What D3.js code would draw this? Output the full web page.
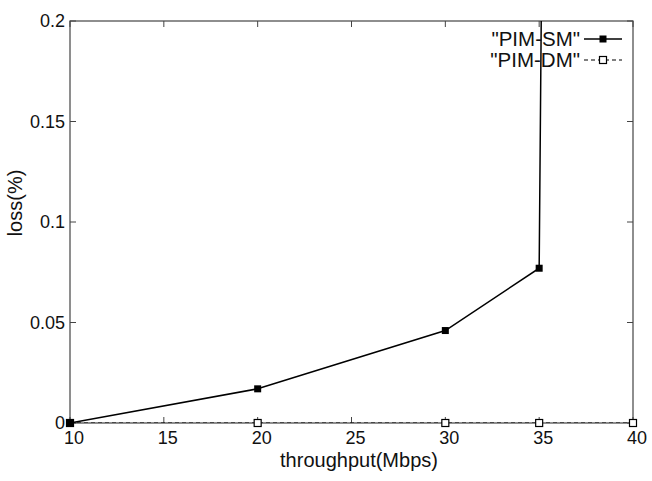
<!DOCTYPE html>
<html>
<head>
<meta charset="utf-8">
<script src="https://cdn.jsdelivr.net/npm/d3@7"></script>
<style>
  body { margin: 0; background: #fff; }
  text { font-family: "Liberation Sans", Arial, sans-serif; fill: #111; }
</style>
</head>
<body>
<script>
// data
const throughput = [10, 20, 30, 35, 40]
const pimSM = [0, 0.017, 0.046, 0.077, 5.7]   // last one shoots far off the top
const pimDM = [0, 0, 0, 0, 0]
const xTicks = [10, 15, 20, 25, 30, 35, 40]
const yTicks = [0, 0.05, 0.1, 0.15, 0.2]
const seriesNames = ['"PIM-SM"', '"PIM-DM"']

const w = 652
const h = 481
const pLeft = 70, pRight = 633, pTop = 21, pBottom = 423

const svg = d3.select("body")
  .append("svg")
  .attr("width", w)
  .attr("height", h)

const x = d3.scaleLinear().domain([10, 40]).range([pLeft, pRight])
const y = d3.scaleLinear().domain([0, 0.2]).range([pBottom, pTop])

svg.append("defs").append("clipPath").attr("id", "plot")
  .append("rect")
  .attr("x", pLeft).attr("y", pTop)
  .attr("width", pRight - pLeft).attr("height", pBottom - pTop)

// ticks on all four sides, pointing inwards
const tickLen = 6
const axisColor = "#444"
svg.append("g").selectAll("line")
  .data(xTicks)
  .enter()
  .append("line")
  .attr("x1", d => x(d)).attr("x2", d => x(d))
  .attr("y1", pBottom).attr("y2", pBottom - tickLen)
  .attr("stroke", axisColor)
svg.append("g").selectAll("line")
  .data(xTicks)
  .enter()
  .append("line")
  .attr("x1", d => x(d)).attr("x2", d => x(d))
  .attr("y1", pTop).attr("y2", pTop + tickLen)
  .attr("stroke", axisColor)
svg.append("g").selectAll("line")
  .data(yTicks)
  .enter()
  .append("line")
  .attr("x1", pLeft).attr("x2", pLeft + tickLen)
  .attr("y1", d => y(d)).attr("y2", d => y(d))
  .attr("stroke", axisColor)
svg.append("g").selectAll("line")
  .data(yTicks)
  .enter()
  .append("line")
  .attr("x1", pRight).attr("x2", pRight - tickLen)
  .attr("y1", d => y(d)).attr("y2", d => y(d))
  .attr("stroke", axisColor)

svg.append("rect")
  .attr("x", pLeft).attr("y", pTop)
  .attr("width", pRight - pLeft).attr("height", pBottom - pTop)
  .attr("fill", "none")
  .attr("stroke", axisColor)
  .attr("stroke-width", 1.2)

// tick labels
svg.append("g").selectAll("text")
  .data(xTicks)
  .enter()
  .append("text")
  .attr("x", d => x(d) + 4)
  .attr("y", pBottom + 21)
  .attr("text-anchor", "middle")
  .attr("font-size", 18)
  .text(d => d)
svg.append("g").selectAll("text")
  .data(yTicks)
  .enter()
  .append("text")
  .attr("x", pLeft - 5)
  .attr("y", d => y(d) + 6)
  .attr("text-anchor", "end")
  .attr("font-size", 18)
  .text(d => d)

// axis titles
svg.append("text")
  .attr("x", 359).attr("y", 467)
  .attr("text-anchor", "middle")
  .attr("font-size", 20)
  .text("throughput(Mbps)")
svg.append("text")
  .attr("transform", "translate(22,203) rotate(-90)")
  .attr("text-anchor", "middle")
  .attr("font-size", 20)
  .text("loss(%)")

// series
const smPts = throughput.map((t, i) => [t, pimSM[i]])
const dmPts = throughput.map((t, i) => [t, pimDM[i]])
const line = d3.line().x(d => x(d[0])).y(d => y(d[1]))
const plot = svg.append("g").attr("clip-path", "url(#plot)")

plot.append("path")
  .datum(dmPts)
  .attr("d", line)
  .attr("fill", "none")
  .attr("stroke", "#000")
  .attr("stroke-width", 1.2)
  .attr("stroke-dasharray", "4,3")
plot.append("path")
  .datum(smPts)
  .attr("d", line)
  .attr("fill", "none")
  .attr("stroke", "#000")
  .attr("stroke-width", 1.5)

const mk = 7
svg.append("g").selectAll("rect")
  .data(dmPts)
  .enter()
  .append("rect")
  .attr("x", d => x(d[0]) - mk / 2)
  .attr("y", d => y(d[1]) - mk / 2)
  .attr("width", mk).attr("height", mk)
  .attr("fill", "#fff")
  .attr("stroke", "#000")
  .attr("stroke-width", 1.2)
svg.append("g").selectAll("rect")
  .data(smPts.filter(d => d[1] <= 0.2))
  .enter()
  .append("rect")
  .attr("x", d => x(d[0]) - mk / 2)
  .attr("y", d => y(d[1]) - mk / 2)
  .attr("width", mk).attr("height", mk)
  .attr("fill", "#000")

// legend
const legend = svg.append("g")
seriesNames.forEach((name, i) => {
  const ly = 39 + i * 21
  legend.append("text")
    .attr("x", 580).attr("y", ly + 7)
    .attr("text-anchor", "end")
    .attr("font-size", 20.5)
    .text(name)
  legend.append("line")
    .attr("x1", 584).attr("x2", 622)
    .attr("y1", ly).attr("y2", ly)
    .attr("stroke", "#000")
    .attr("stroke-width", i == 0 ? 1.5 : 1.2)
    .attr("stroke-dasharray", i == 0 ? null : "4,3")
  legend.append("rect")
    .attr("x", 603 - mk / 2).attr("y", ly - mk / 2)
    .attr("width", mk).attr("height", mk)
    .attr("fill", i == 0 ? "#000" : "#fff")
    .attr("stroke", "#000")
    .attr("stroke-width", i == 0 ? 0 : 1.2)
})
</script>
</body>
</html>
